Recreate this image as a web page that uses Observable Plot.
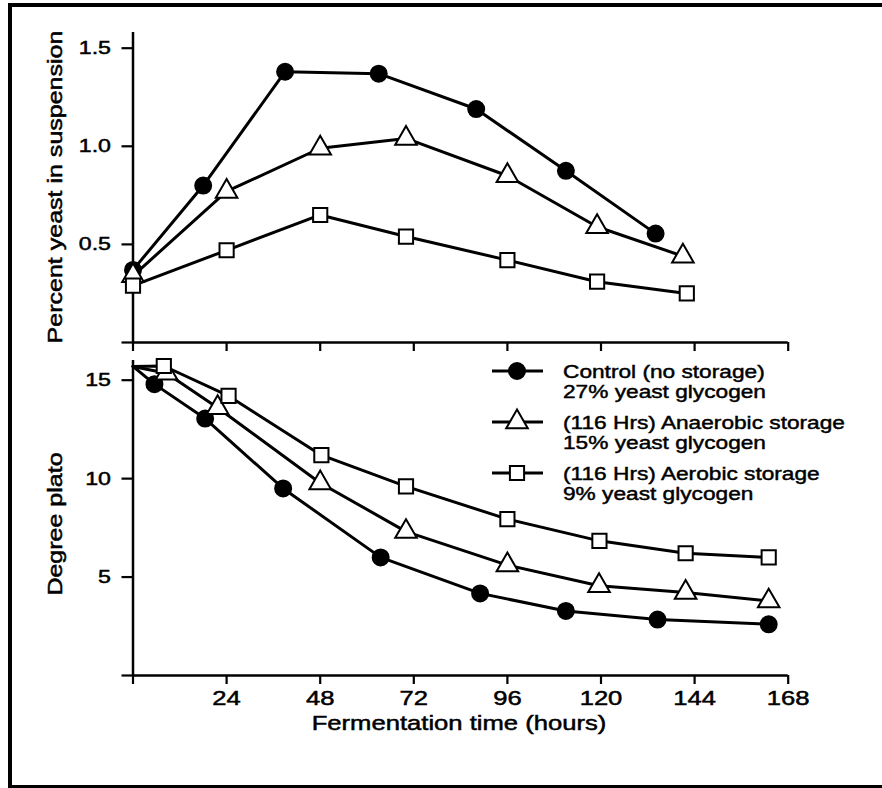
<!DOCTYPE html>
<html>
<head>
<meta charset="utf-8">
<script src="https://cdn.jsdelivr.net/npm/d3@7"></script>
<script src="https://cdn.jsdelivr.net/npm/@observablehq/plot@0.6"></script>
<style>
html, body { margin: 0; padding: 0; background: #fff; overflow: hidden; }
#wrap { position: relative; width: 882px; height: 788px; overflow: hidden; color: #000;
  font-family: "Liberation Sans", Arial, Helvetica, sans-serif; }
#frame { position: absolute; left: 8px; top: 3px; width: 920px; height: 786px;
  border: 4px solid #000; box-sizing: border-box; }
.layer { position: absolute; left: 0; top: 0; }
.title { position: absolute; white-space: nowrap; line-height: 1; color: #000; -webkit-text-stroke: 0.5px #000; }
</style>
</head>
<body>
<div id="wrap"><div id="frame"></div></div>
<script>
// ---------- data ----------
const seriesNames = ["Control (no storage)", "(116 Hrs) Anaerobic storage", "(116 Hrs) Aerobic storage"];
const seriesSub = ["27% yeast glycogen", "15% yeast glycogen", "9% yeast glycogen"];
const xTicks = [0, 24, 48, 72, 96, 120, 144, 168];

// Top panel: percent yeast in suspension
const topHoursControl = [0, 18, 39, 63, 88, 111, 134];
const topYeastControl = [0.37, 0.80, 1.38, 1.37, 1.19, 0.875, 0.555];
const topHoursAnaerobic = [0, 24, 48, 70, 96, 119, 141];
const topYeastAnaerobic = [0.34, 0.77, 0.99, 1.04, 0.85, 0.59, 0.44];
const topHoursAerobic = [0, 24, 48, 70, 96, 119, 142];
const topYeastAerobic = [0.29, 0.47, 0.65, 0.54, 0.42, 0.31, 0.25];

// Bottom panel: degree plato
const botHoursControl = [0, 5.5, 18.5, 38.5, 63.5, 89, 111, 134.5, 163];
const botPlatoControl = [15.7, 14.8, 13.05, 9.5, 6.0, 4.17, 3.28, 2.84, 2.6];
const botHoursAnaerobic = [0, 8.6, 21.7, 48, 70, 96, 119.5, 141.7, 163];
const botPlatoAnaerobic = [15.7, 15.35, 13.6, 9.78, 7.31, 5.61, 4.56, 4.22, 3.78];
const botHoursAerobic = [0, 7.9, 24.5, 48.3, 70, 96, 119.6, 141.7, 163];
const botPlatoAerobic = [15.7, 15.72, 14.2, 11.19, 9.61, 7.94, 6.84, 6.21, 6.0];

const yTicksTop = [0, 0.5, 1.0, 1.5];
const yTicksBot = [0, 5, 10, 15];

// ---------- helpers ----------
const rows = (name, hours, vals) => hours.map((h, i) => ({series: name, hours: h, value: vals[i]}));
const topData = [
  rows(seriesNames[0], topHoursControl, topYeastControl),
  rows(seriesNames[1], topHoursAnaerobic, topYeastAnaerobic),
  rows(seriesNames[2], topHoursAerobic, topYeastAerobic)
];
const botData = [
  rows(seriesNames[0], botHoursControl, botPlatoControl),
  rows(seriesNames[1], botHoursAnaerobic, botPlatoAnaerobic),
  rows(seriesNames[2], botHoursAerobic, botPlatoAerobic)
];
const symbols = ["circle", "triangle", "square"];
const fills = ["#000", "#fff", "#fff"];
const K = 1.22; // horizontal stretch of the lettering
const FONT = '"Liberation Sans", Arial, Helvetica, sans-serif';

function seriesMarks(data, dotFilter) {
  const marks = [];
  data.forEach(d => marks.push(Plot.line(d, {x: "hours", y: "value", stroke: "#000", strokeWidth: 3, strokeLinejoin: "round"})));
  data.forEach((d, i) => marks.push(Plot.dot(d, {x: "hours", y: "value", symbol: symbols[i], r: 8,
    fill: fills[i], stroke: "#000", strokeWidth: 2, filter: dotFilter})));
  return marks;
}

function stretchTexts(svg, selector, size) {
  svg.querySelectorAll(selector).forEach(g => {
    g.setAttribute("font-size", size);
    g.style.fontSize = size + "px";
    g.setAttribute("stroke", "#000");
    g.setAttribute("stroke-width", 0.5);
    g.querySelectorAll("text").forEach(t => {
      const x = +t.getAttribute("x") || 0, y = +t.getAttribute("y") || 0;
      const tr = t.getAttribute("transform") || "";
      t.setAttribute("transform", `${tr} translate(${x},${y}) scale(${K},1) translate(${-x},${-y})`);
    });
  });
}

const common = {
  width: 882, height: 788, marginLeft: 132.5, marginRight: 94.3,
  x: {domain: [0, 168]},
  style: {background: "transparent", color: "#000", fontFamily: FONT, fontSize: "19px", overflow: "visible"}
};

// ---------- top panel ----------
const topPlot = Plot.plot({
  ...common,
  marginTop: 32, marginBottom: 788 - 342,
  y: {domain: [0, 1.58]},
  marks: [
    Plot.ruleY([0], {stroke: "#000", strokeWidth: 2.5}),
    Plot.ruleX([0], {stroke: "#000", strokeWidth: 2.5}),
    Plot.axisY({ticks: yTicksTop, tickSize: 11, tickPadding: 11, strokeWidth: 2.2, fontSize: 19,
      tickFormat: d => d === 0 ? "" : d.toFixed(1), label: null}),
    Plot.axisX({ticks: xTicks, tickSize: 9, strokeWidth: 2.2, tickFormat: () => "", label: null}),
    ...seriesMarks(topData, null)
  ]
});

// ---------- bottom panel ----------
const botPlot = Plot.plot({
  ...common,
  marginTop: 360, marginBottom: 788 - 675,
  y: {domain: [0, 16]},
  marks: [
    Plot.ruleY([0], {stroke: "#000", strokeWidth: 2.5}),
    Plot.ruleX([0], {stroke: "#000", strokeWidth: 2.5}),
    Plot.axisY({ticks: yTicksBot, tickSize: 11, tickPadding: 11, strokeWidth: 2.2, fontSize: 19,
      tickFormat: d => d === 0 ? "" : String(d), label: null}),
    Plot.axisX({ticks: xTicks, tickSize: 9, tickPadding: 6, strokeWidth: 2.2, fontSize: 21,
      tickFormat: d => d === 0 ? "" : String(d), label: null}),
    ...seriesMarks(botData, d => d.hours > 0)
  ]
});

const wrap = document.getElementById("wrap");
[topPlot, botPlot].forEach(svg => { svg.classList.add("layer"); svg.style.position = "absolute"; wrap.appendChild(svg); });
stretchTexts(topPlot, 'g[aria-label="y-axis tick label"]', 19);
stretchTexts(botPlot, 'g[aria-label="y-axis tick label"]', 19);
stretchTexts(botPlot, 'g[aria-label="x-axis tick label"]', 21);

// ---------- axis titles ----------
function title(text, cx, cy, size, rotate) {
  const d = document.createElement("div");
  d.className = "title";
  d.textContent = text;
  d.style.fontSize = size + "px";
  d.style.left = cx + "px";
  d.style.top = cy + "px";
  d.style.transform = `translate(-50%,-50%) ${rotate ? "rotate(-90deg) " : ""}scaleX(${K})`;
  wrap.appendChild(d);
}
title("Percent yeast in suspension", 55, 187, 20.5, true);
title("Degree plato", 55, 524, 20.5, true);
title("Fermentation time (hours)", 459, 722, 21, false);

// ---------- legend ----------
const leg = d3.select(wrap).append("svg")
  .attr("class", "layer").attr("width", 882).attr("height", 788)
  .style("position", "absolute").style("overflow", "visible")
  .attr("font-family", FONT).attr("font-size", 18.6);
seriesNames.forEach((name, i) => {
  const cy = 371 + i * 51;
  const g = leg.append("g");
  g.append("line").attr("x1", 492).attr("x2", 543).attr("y1", cy).attr("y2", cy)
    .attr("stroke", "#000").attr("stroke-width", 3);
  if (symbols[i] === "circle") {
    g.append("circle").attr("cx", 517).attr("cy", cy).attr("r", 8).attr("fill", "#000").attr("stroke", "#000").attr("stroke-width", 2);
  } else {
    const sym = symbols[i] === "triangle" ? d3.symbolTriangle : d3.symbolSquare;
    g.append("path").attr("d", d3.symbol(sym, Math.PI * 64)()).attr("transform", `translate(517,${cy})`)
      .attr("fill", "#fff").attr("stroke", "#000").attr("stroke-width", 2);
  }
  const t = g.append("text").attr("transform", `translate(563,${cy}) scale(${K},1)`)
    .attr("fill", "#000").attr("stroke", "#000").attr("stroke-width", 0.45);
  t.append("tspan").attr("x", 0).attr("dy", "0.35em").text(name);
  t.append("tspan").attr("x", 0).attr("dy", 21).text(seriesSub[i]);
});
</script>
</body>
</html>
